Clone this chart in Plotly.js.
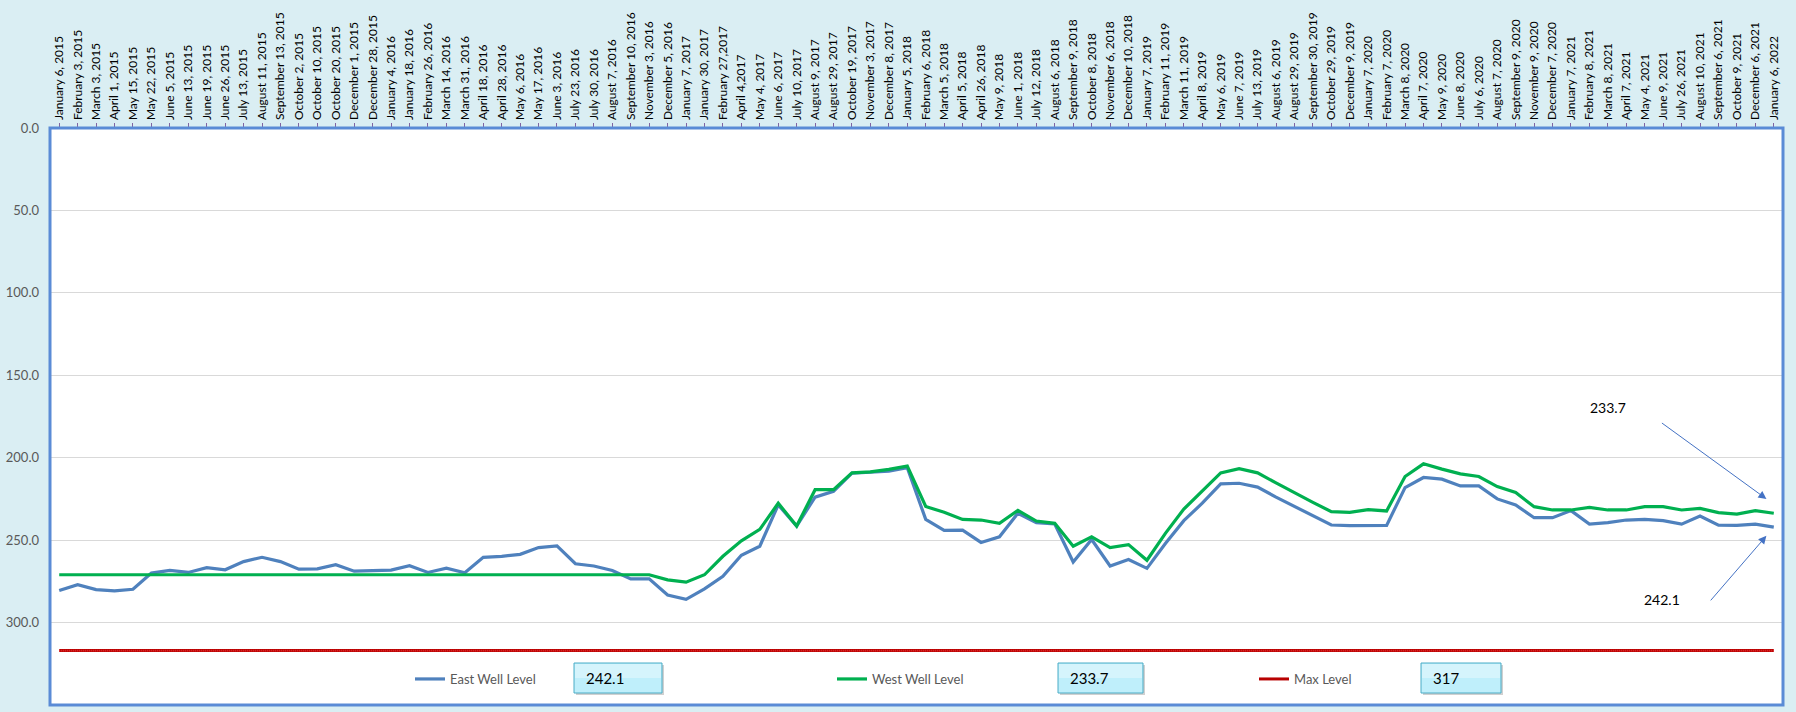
<!DOCTYPE html>
<html>
<head>
<meta charset="utf-8">
<script src="https://cdn.plot.ly/plotly-3.0.1.min.js"></script>
<style>
  html, body { margin: 0; padding: 0; background: #DAEEF3; }
  #chart { width: 1796px; height: 712px; }
</style>
</head>
<body>
<div id="chart"></div>
<script>
const dates = [
  "January 6, 2015","February 3, 2015","March 3, 2015","April 1, 2015","May 15, 2015","May 22, 2015",
  "June 5, 2015","June 13, 2015","June 19, 2015","June 26, 2015","July 13, 2015","August 11, 2015",
  "September 13, 2015","October 2, 2015","October 10, 2015","October 20, 2015","December 1, 2015",
  "December 28, 2015","January 4, 2016","January 18, 2016","February 26, 2016","March 14, 2016",
  "March 31, 2016","April 18, 2016","April 28, 2016","May 6, 2016","May 17, 2016","June 3, 2016",
  "July 23, 2016","July 30, 2016","August 7, 2016","September 10, 2016","November 3, 2016",
  "December 5, 2016","January 7, 2017","January 30, 2017","February 27,2017","April 4,2017",
  "May 4, 2017","June 6, 2017","July 10, 2017","August 9, 2017","August 29, 2017","October 19, 2017",
  "November 3, 2017","December 8, 2017","January 5, 2018","February 6, 2018","March 5, 2018",
  "April 5, 2018","April 26, 2018","May 9, 2018","June 1, 2018","July 12, 2018","August 6, 2018",
  "September 9, 2018","October 8, 2018","November 6, 2018","December 10, 2018","January 7, 2019",
  "February 11, 2019","March 11, 2019","April 8, 2019","May 6, 2019","June 7, 2019","July 13, 2019",
  "August 6, 2019","August 29, 2019","September 30, 2019","October 29, 2019","December 9, 2019",
  "January 7, 2020","February 7, 2020","March 8, 2020","April 7, 2020","May 9, 2020","June 8, 2020",
  "July 6, 2020","August 7, 2020","September 9, 2020","November 9, 2020","December 7, 2020",
  "January 7, 2021","February 8, 2021","March 8, 2021","April 7, 2021","May 4, 2021","June 9, 2021",
  "July 26, 2021","August 10, 2021","September 6, 2021","October 9, 2021","December 6, 2021",
  "January 6, 2022"
];

const eastWell = [
  280.6,277,280,280.8,279.8,270,268.4,269.6,266.7,268,263,260.4,263,267.6,267.4,264.9,268.8,268.6,
  268.2,265.5,269.6,267,269.8,260.4,259.8,258.6,254.5,253.5,264.3,265.7,268.4,273.5,273.5,283.3,
  285.9,279.6,272,259.2,253.7,228.6,241.4,223.9,220.4,209.4,208.8,208.2,206.1,237.4,244.1,243.9,
  251.4,248,233.7,239.4,240.2,263.3,249.6,265.7,261.8,267.1,252,238.2,227.6,215.9,215.5,217.8,
  223.9,229.6,235.3,240.8,241.2,241.2,241.1,218.1,212,213,217.1,217.1,225,228.7,236.4,236.4,
  232.1,240.3,239.4,237.8,237.4,238.2,240.3,235.4,240.9,241.1,240.3,242.1
];

const westWell = [
  271,271,271,271,271,271,271,271,271,271,271,271,271,271,271,271,271,271,271,271,271,271,271,
  271,271,271,271,271,271,271,271,271,271,274.1,275.5,271,259.8,250.4,243.5,227.6,241.4,219.4,
  219.4,209.2,208.6,207.1,205.1,229.6,233.1,237.4,237.8,239.8,232,238.4,239.8,253.7,248,254.5,
  252.7,262.2,245.9,231.2,220.4,209.2,206.7,209.2,215.3,221.4,227.1,232.7,233.1,231.5,232.3,
  211.4,203.7,206.9,209.8,211.4,217.5,221.1,229.7,231.7,231.7,230.1,231.7,231.7,229.7,229.7,
  231.7,230.7,233.3,234.2,232.1,233.7
];

const maxLevel = 317;
const yTicks = [0, 50, 100, 150, 200, 250, 300, 350];
const seriesNames = ["East Well Level", "West Well Level", "Max Level"];
const latestEast = "242.1";
const latestWest = "233.7";
const maxLabel = "317";

// layout geometry
const W = 1796, H = 712;
const M = {l: 50, r: 13, t: 128, b: 7};
const PW = W - M.l - M.r, PH = H - M.t - M.b;
const px = x => (x - M.l) / PW;
const py = y => (H - M.b - y) / PH;

const FONT = "Lato, 'Open Sans', 'DejaVu Sans', sans-serif";

const maxX = [dates[0], dates[dates.length - 1]];
const traces = [
  {
    x: dates, y: eastWell, type: "scatter", mode: "lines", name: seriesNames[0],
    line: {color: "#4F81BD", width: 3.2}
  },
  {
    x: dates, y: westWell, type: "scatter", mode: "lines", name: seriesNames[1],
    line: {color: "#00B050", width: 3.2}
  },
  {
    x: maxX, y: [maxLevel, maxLevel], type: "scatter", mode: "lines",
    name: seriesNames[2], legendgroup: "max", line: {color: "#B80000", width: 3}
  },
  {
    x: maxX, y: [maxLevel, maxLevel], type: "scatter", mode: "lines",
    name: seriesNames[2], legendgroup: "max", showlegend: false,
    line: {color: "#E03030", width: 1.6, dash: "1px,1px"}
  }
];

function valueBox(x0, x1, label) {
  return {
    shape: [
      {type: "rect", xref: "paper", yref: "paper", x0: px(x0 + 2), x1: px(x1 + 2), y0: py(695), y1: py(665),
       fillcolor: "rgba(120,120,120,0.35)", line: {width: 0}, layer: "above"},
      {type: "rect", xref: "paper", yref: "paper", x0: px(x0), x1: px(x1), y0: py(693), y1: py(663),
       fillcolor: "#BFEFFB", line: {color: "#4BACC6", width: 1}, layer: "above"},
      {type: "rect", xref: "paper", yref: "paper", x0: px(x0 + 1), x1: px(x1 - 1), y0: py(678), y1: py(664),
       fillcolor: "rgba(255,255,255,0.35)", line: {width: 0}, layer: "above"}
    ],
    ann: {
      xref: "paper", yref: "paper", x: px(x0 + 10), y: py(678), xanchor: "left", yanchor: "middle",
      text: label, showarrow: false, font: {family: FONT, size: 15, color: "#000000"}
    }
  };
}

const boxes = [valueBox(574, 662, latestEast), valueBox(1058, 1143, latestWest), valueBox(1421, 1501, maxLabel)];

const shapes = [
  {type: "rect", xref: "paper", yref: "paper", x0: 0, x1: 1, y0: 0, y1: 1,
   line: {color: "#5A8BD6", width: 3}, fillcolor: "rgba(0,0,0,0)", layer: "above"}
];
boxes.forEach(b => shapes.push(...b.shape));

const annotations = boxes.map(b => b.ann);
// arrows to last values
annotations.push(
  {xref: "x", yref: "y", x: 92.6, y: 225, ax: 1661 - 1767, ay: 422 - 499,
   text: "", showarrow: true, arrowhead: 2, arrowsize: 1.6, arrowwidth: 1, arrowcolor: "#4472C4"},
  {xref: "x", yref: "y", x: 92.6, y: 247.4, ax: 1710 - 1767, ay: 602 - 536,
   text: "", showarrow: true, arrowhead: 2, arrowsize: 1.6, arrowwidth: 1, arrowcolor: "#4472C4"},
  {xref: "paper", yref: "paper", x: px(1628), y: py(407), text: latestWest, showarrow: false,
   font: {family: FONT, size: 14, color: "#000000"}},
  {xref: "paper", yref: "paper", x: px(1682), y: py(610), text: latestEast, showarrow: false,
   font: {family: FONT, size: 14, color: "#000000"}}
);

const layout = {
  width: W, height: H,
  margin: M,
  paper_bgcolor: "#DAEEF3",
  plot_bgcolor: "#FFFFFF",
  font: {family: FONT, size: 12, color: "#000000"},
  showlegend: true,
  legend: {
    orientation: "h", x: px(410), y: py(679), xanchor: "left", yanchor: "middle",
    bgcolor: "rgba(0,0,0,0)", entrywidth: 377,
    font: {family: FONT, size: 13, color: "#595959"}
  },
  xaxis: {
    type: "category", side: "top", range: [-0.5, dates.length - 0.5],
    tickangle: -90, ticks: "outside", ticklen: 4, tickcolor: "#8064A2",
    showline: true, linecolor: "#7F6FB8", linewidth: 1.5, mirror: false,
    showgrid: false, zeroline: false, fixedrange: true,
    tickfont: {family: FONT, size: 12, color: "#000000"}
  },
  yaxis: {
    range: [350, 0], tickvals: yTicks, tickformat: ".1f", ticks: "",
    showgrid: true, gridcolor: "#D9D9D9", gridwidth: 1, zeroline: false,
    showline: false, ticklabelstandoff: 10,
    tickfont: {family: FONT, size: 13, color: "#595959"}
  },
  shapes: shapes,
  annotations: annotations
};

Plotly.newPlot("chart", traces, layout, {displayModeBar: false, staticPlot: true});
</script>
</body>
</html>
